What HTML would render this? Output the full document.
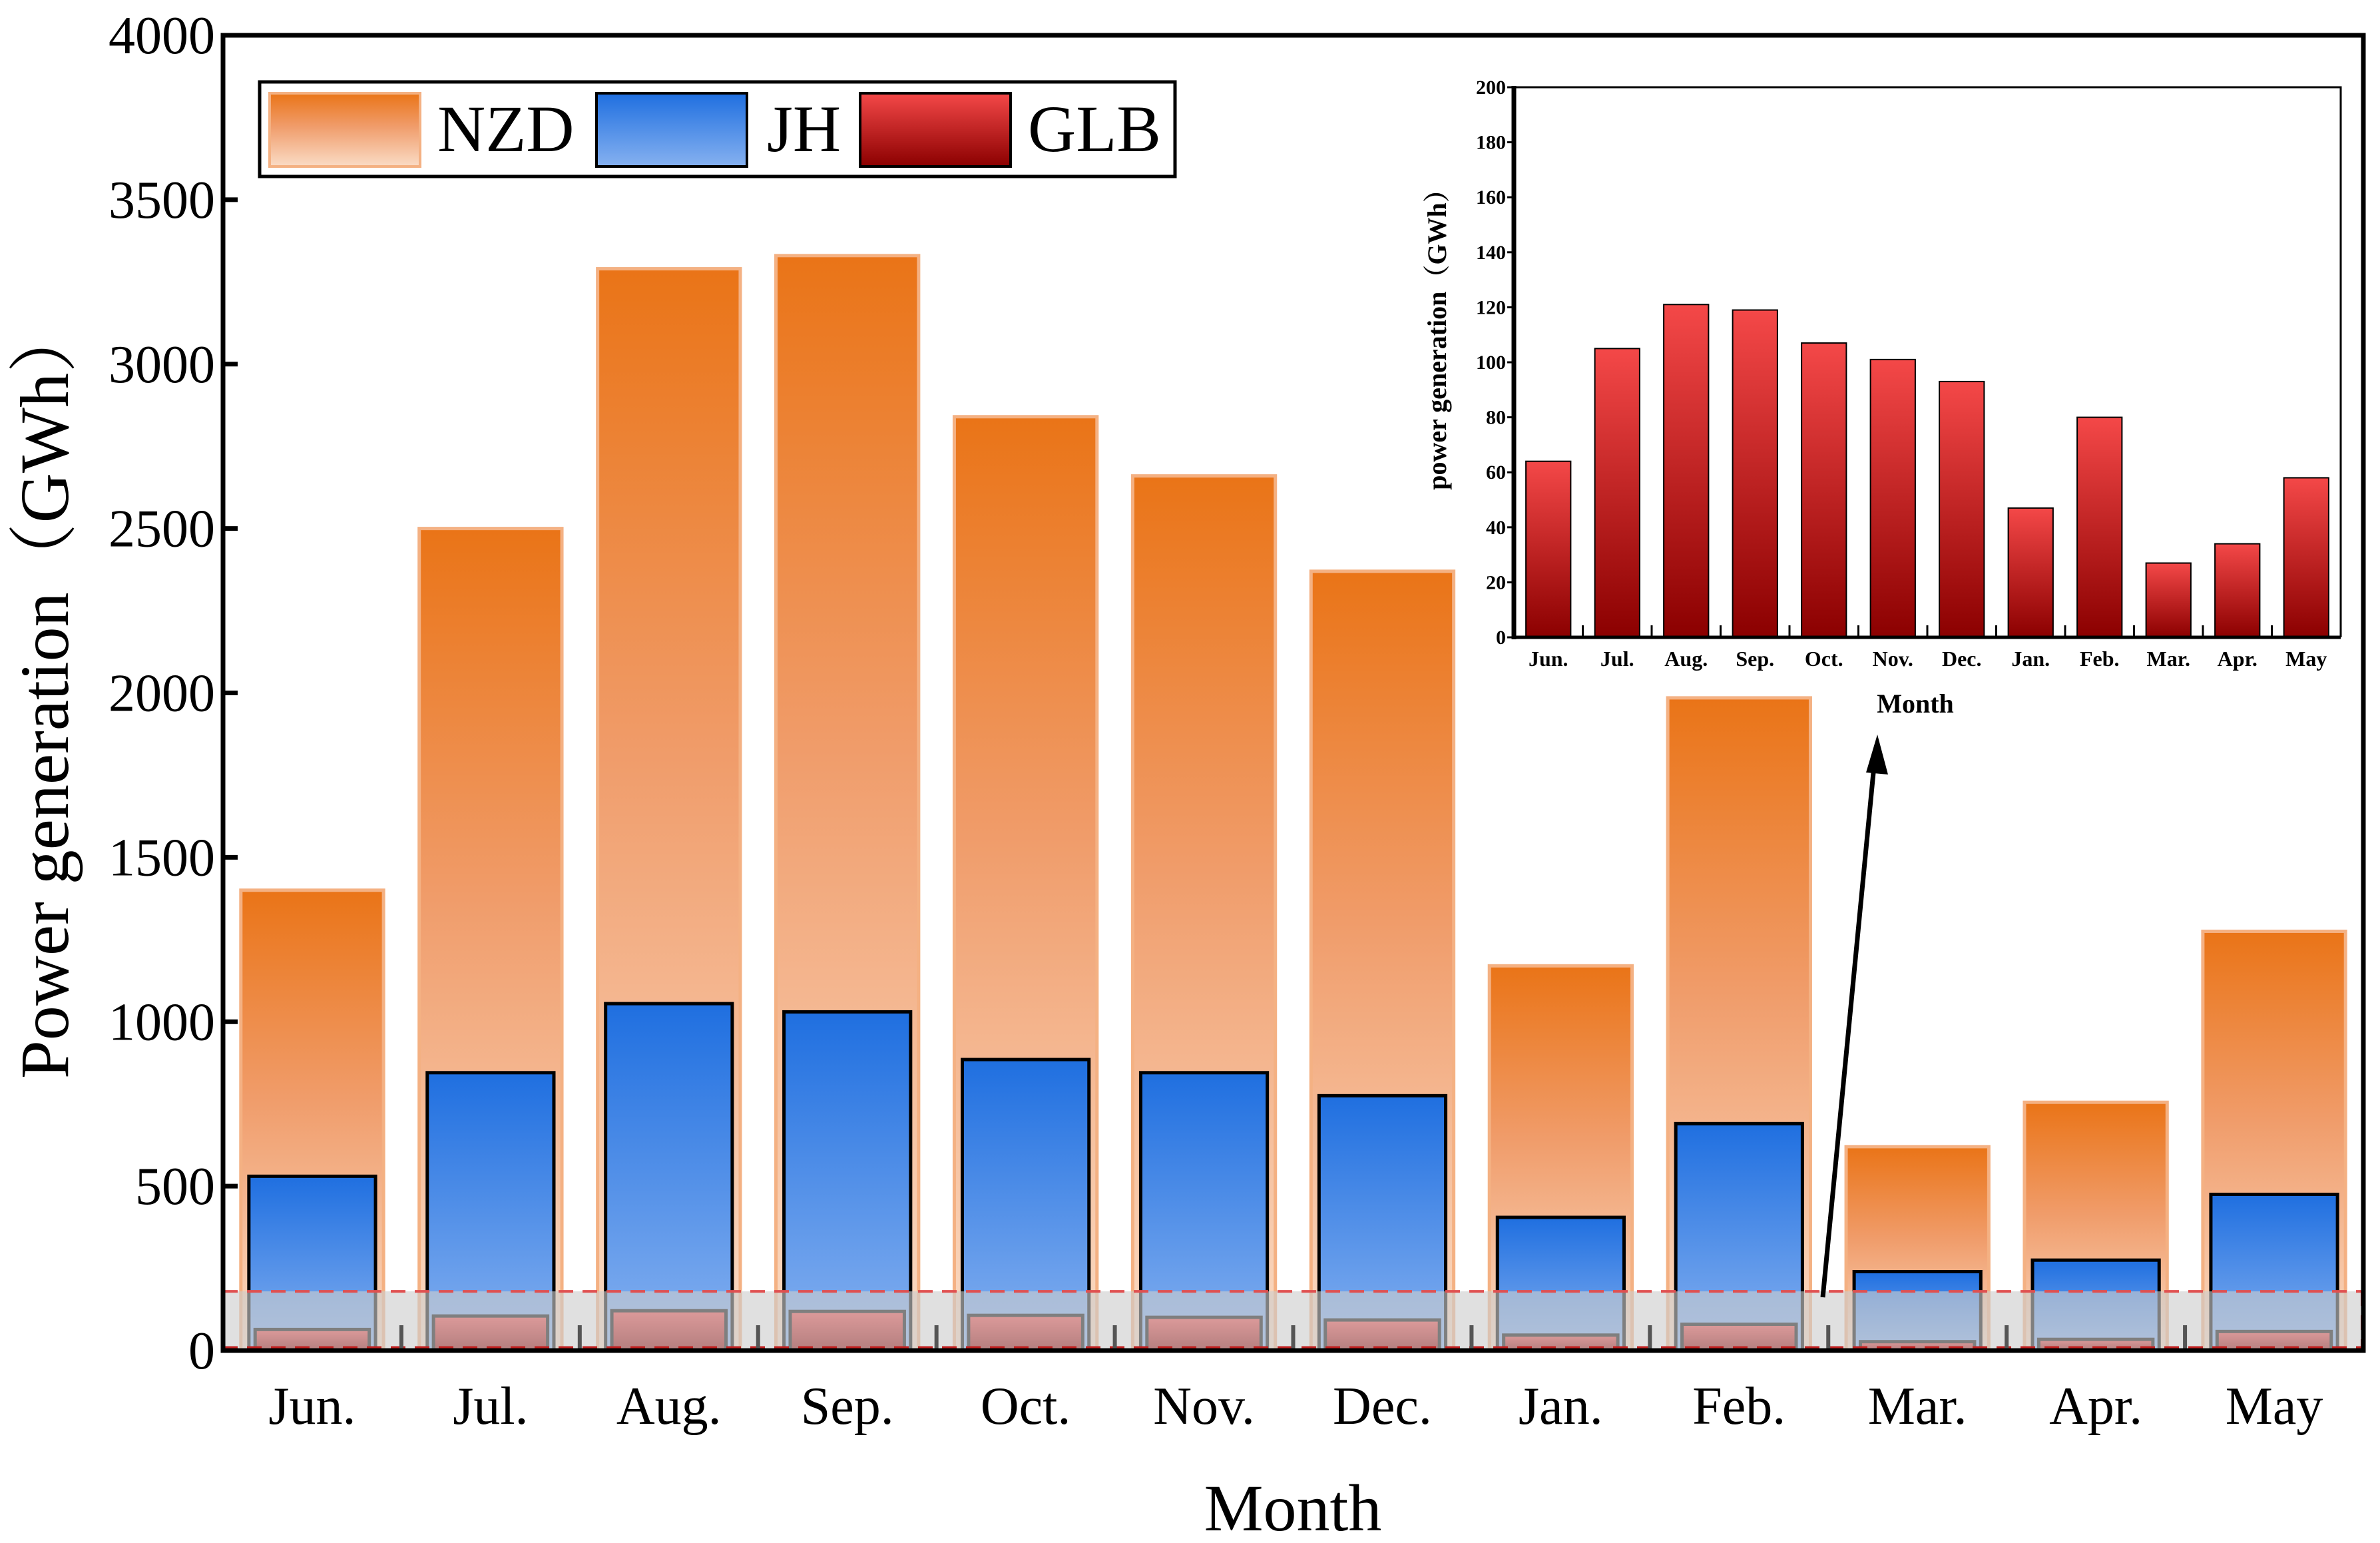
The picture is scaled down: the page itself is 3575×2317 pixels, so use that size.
<!DOCTYPE html>
<html><head><meta charset="utf-8"><style>
html,body{margin:0;padding:0;background:#fff;}
svg{display:block;}
text{font-family:"Liberation Serif","Noto Serif CJK SC",serif;}
</style></head><body>
<svg id="chart" width="3575" height="2317" viewBox="0 0 3575 2317" xmlns="http://www.w3.org/2000/svg">
<defs>
<linearGradient id="gNZD" x1="0" y1="0" x2="0" y2="1"><stop offset="0" stop-color="#ea7417"/><stop offset="0.45" stop-color="#f09c6a"/><stop offset="1" stop-color="#fadcc6"/></linearGradient>
<linearGradient id="gJH" x1="0" y1="0" x2="0" y2="1"><stop offset="0" stop-color="#1f6fe0"/><stop offset="1" stop-color="#86b1f0"/></linearGradient>
<linearGradient id="gGLB" x1="0" y1="0" x2="0" y2="1"><stop offset="0" stop-color="#f44848"/><stop offset="1" stop-color="#8b0000"/></linearGradient>
</defs>
<g id="main"></g>
<g id="inset"></g>
</svg>
<script>
const months = ["Jun.","Jul.","Aug.","Sep.","Oct.","Nov.","Dec.","Jan.","Feb.","Mar.","Apr.","May"];
const nzdValues = [1400,2500,3290,3330,2840,2660,2370,1170,1985,620,755,1275];
const jhValues = [530,845,1055,1030,885,845,775,405,690,240,275,475];
const glbValues = [64,105,121,119,107,101,93,47,80,27,34,58];
const yTicks = [0,500,1000,1500,2000,2500,3000,3500,4000];
const insetTicks = [0,20,40,60,80,100,120,140,160,180,200];
const bandMax = 180;

const NS = "http://www.w3.org/2000/svg";
function mk(parent, tag, attrs, txt){
  const e = document.createElementNS(NS, tag);
  for (const k in attrs) e.setAttribute(k, attrs[k]);
  if (txt !== undefined) e.textContent = txt;
  parent.appendChild(e);
  return e;
}
const main = document.getElementById('main');
const L=335, R=3550, T=53, B=2028, YMAX=4000;
const n = months.length, step=(R-L)/n;
const y = v => B - v/YMAX*(B-T);
const xc = i => L + step*(i+0.5);

nzdValues.forEach((v,i)=>{
  const w=step*0.8;
  const r = mk(main,'rect',{x:xc(i)-w/2,y:y(v),width:w,height:B-y(v),fill:'url(#gNZD)',stroke:'#f4b183','stroke-width':5});
  
  
});
jhValues.forEach((v,i)=>{
  const w=step*0.71;
  const r = mk(main,'rect',{x:xc(i)-w/2,y:y(v),width:w,height:B-y(v),fill:'url(#gJH)',stroke:'#000','stroke-width':5});
  
  
});
glbValues.forEach((v,i)=>{
  const w=step*0.64;
  const r = mk(main,'rect',{x:xc(i)-w/2,y:y(v),width:w,height:B-y(v),fill:'url(#gGLB)',stroke:'#000','stroke-width':5});
  
  
});
const band = mk(main,'rect',{x:L,y:y(bandMax),width:R-L,height:B-y(bandMax),fill:'rgba(205,205,205,0.62)'});


const d1 = mk(main,'line',{x1:L,x2:R,y1:y(bandMax),y2:y(bandMax),stroke:'#e05050','stroke-width':4,'stroke-dasharray':'22 14'});


const d2 = mk(main,'line',{x1:L,x2:R,y1:B-4,y2:B-4,stroke:'#c02020','stroke-width':5,'stroke-dasharray':'22 14'});


mk(main,'line',{x1:R-2,x2:R-2,y1:y(bandMax),y2:B,stroke:'#c02020','stroke-width':4,'stroke-dasharray':'22 14'});

for(let i=1;i<n;i++){
  const t = mk(main,'line',{x1:L+step*i,x2:L+step*i,y1:B,y2:B-38,stroke:'#555','stroke-width':6});
  
  
}
const frame = mk(main,'path',{d:`M${L},${T} H${R} V${B} H${L} Z`,fill:'none',stroke:'#000','stroke-width':7});


yTicks.forEach(v=>{
  mk(main,'line',{x1:L,x2:L+22,y1:y(v),y2:y(v),stroke:'#000','stroke-width':7});
  const t = mk(main,'text',{x:L-12,y:y(v)+27,'text-anchor':'end','font-size':80},String(v));
  
  
});
months.forEach((m,i)=>{
  const t = mk(main,'text',{x:xc(i),y:2138,'text-anchor':'middle','font-size':80},m);
  
  
});
const xt = mk(main,'text',{x:1942,y:2298,'text-anchor':'middle','font-size':100},'Month');


const yt = mk(main,'text',{x:0,y:0,'text-anchor':'middle','font-size':104,transform:'translate(102,1038) rotate(-90)'},'Power generation（GWh）');



const lg = mk(main,'g',{});


mk(lg,'rect',{x:390,y:123,width:1375,height:142,fill:'#fff',stroke:'#000','stroke-width':5});
const legItems=[["NZD",405,'url(#gNZD)','#f4b183',657],["JH",896,'url(#gJH)','#000',1152],["GLB",1292,'url(#gGLB)','#000',1544]];
legItems.forEach(it=>{
  const g = mk(lg,'g',{});
  
  
  mk(g,'rect',{x:it[1],y:140,width:226,height:110,fill:it[2],stroke:it[3],'stroke-width':4});
  mk(g,'text',{x:it[4],y:227,'font-size':100},it[0]);
});

const ar = mk(main,'line',{x1:2738,y1:1948,x2:2815,y2:1150,stroke:'#000','stroke-width':7});
mk(main,'path',{d:'M2820,1103 L2803,1160 L2836,1163 Z',fill:'#000'});



const ins = document.getElementById('inset');


const iL=2274, iR=3516, iT=131, iB=957, iMax=200;
const istep=(iR-iL)/n;
const iy = v => iB - v/iMax*(iB-iT);
const ixc = i => iL + istep*(i+0.5);
glbValues.forEach((v,i)=>{
  const w=istep*0.65;
  const r = mk(ins,'rect',{x:ixc(i)-w/2,y:iy(v),width:w,height:iB-iy(v),fill:'url(#gGLB)',stroke:'#000','stroke-width':2});
  
  
});
for(let i=1;i<=n;i++){
  mk(ins,'line',{x1:iL+istep*i,x2:iL+istep*i,y1:iB,y2:iB-18,stroke:'#000','stroke-width':3});
}
mk(ins,'path',{d:`M${iL},${iT} H${iR} V${iB}`,fill:'none',stroke:'#000','stroke-width':3});
mk(ins,'line',{x1:iL,x2:iL,y1:iT-2,y2:iB+3,stroke:'#000','stroke-width':7});
mk(ins,'line',{x1:iL,x2:iR,y1:iB,y2:iB,stroke:'#000','stroke-width':5});
insetTicks.forEach(v=>{
  mk(ins,'line',{x1:iL-10,x2:iL,y1:iy(v),y2:iy(v),stroke:'#000','stroke-width':3});
  const t = mk(ins,'text',{x:iL-12,y:iy(v)+10,'text-anchor':'end','font-size':30,'font-weight':'bold'},String(v));
  
  
});
months.forEach((m,i)=>{
  const t = mk(ins,'text',{x:ixc(i),y:1000,'text-anchor':'middle','font-size':32,'font-weight':'bold'},m);
  
  
});
const ixt = mk(ins,'text',{x:2877,y:1070,'text-anchor':'middle','font-size':40,'font-weight':'bold'},'Month');


const iyt = mk(ins,'text',{x:0,y:0,'text-anchor':'middle','font-size':40,'font-weight':'bold',transform:'translate(2172,500) rotate(-90)'},'power generation（GWh）');


</script>
</body></html>
